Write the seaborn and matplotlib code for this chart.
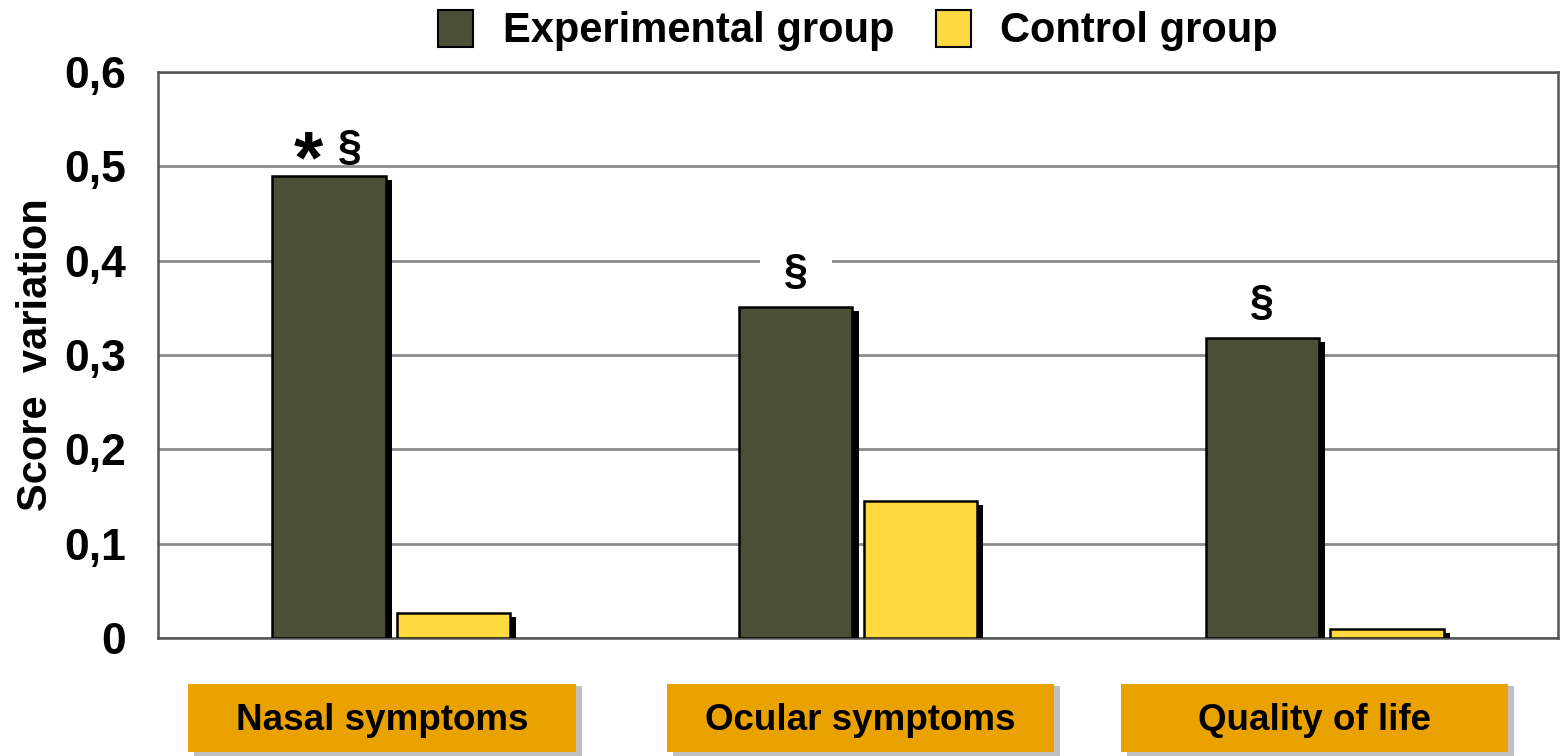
import matplotlib
matplotlib.use("Agg")
import matplotlib.pyplot as plt
import matplotlib.patheffects as pe
from matplotlib.patches import Rectangle, Patch
import matplotlib.transforms as mtransforms
import pandas as pd
import seaborn as sns

# === DATA ===
categories = ["Nasal symptoms", "Ocular symptoms", "Quality of life"]
groups = ["Experimental group", "Control group"]
experimental = [0.490, 0.351, 0.318]
control = [0.027, 0.145, 0.010]
marks = ["* §", "§", "§"]
yticks = [0, 0.1, 0.2, 0.3, 0.4, 0.5, 0.6]
ytick_labels = ["0", "0,1", "0,2", "0,3", "0,4", "0,5", "0,6"]

colors = {"Experimental group": "#4B4F36", "Control group": "#FFD940"}

df = pd.DataFrame({
    "category": categories * 2,
    "group": [groups[0]] * 3 + [groups[1]] * 3,
    "value": experimental + control,
})

# === PLOT ===
sns.set_style("white")
plt.rcParams["font.family"] = ["Liberation Sans", "DejaVu Sans"]
plt.rcParams["font.weight"] = "bold"
plt.rcParams["text.color"] = "black"
plt.rcParams["axes.labelcolor"] = "black"
plt.rcParams["ytick.color"] = "black"

fig = plt.figure(figsize=(15.63, 7.56), dpi=100)
ax = fig.add_axes([0.101, 0.156, 0.8958, 0.7488])

sns.barplot(data=df, x="category", y="value", hue="group", order=categories,
            hue_order=groups, palette=colors, saturation=1, width=0.534, gap=0.09,
            edgecolor="black", linewidth=1.8, legend=False, ax=ax, zorder=3)

# black drop shadow on every bar
shadow = [pe.SimplePatchShadow(offset=(4.5, -3), shadow_rgbFace="black", alpha=1),
          pe.Normal()]
for p in ax.patches:
    p.set_path_effects(shadow)

ax.set_xlim(-0.5, 2.5)
ax.set_ylim(0, 0.6)
ax.set_yticks(yticks)
ax.set_yticklabels(ytick_labels, fontsize=32, fontweight="bold")
ax.tick_params(axis="y", length=0, pad=23)
ax.set_xticks([])
ax.set_xlabel("")
ax.set_ylabel("Score  variation", fontsize=30, fontweight="bold", labelpad=6)
ax.yaxis.grid(True, color="#8C8C8C", linewidth=2, zorder=0)
ax.set_axisbelow(True)
for s in ax.spines.values():
    s.set_color("#555555")
    s.set_linewidth(1.8)

# significance marks above the experimental bars
exp_bars = ax.containers[0]
for bar, m in zip(exp_bars, marks):
    cx = bar.get_x() + bar.get_width() / 2
    top = bar.get_height()
    tokens = m.split()
    n = len(tokens)
    for k, tok in enumerate(tokens):
        dx = (k - (n - 1) / 2) * 29.5
        if tok == "*":
            ax.annotate(tok, (cx, top), xytext=(dx, 9), textcoords="offset points",
                        ha="center", va="center", fontsize=54, fontweight="bold", zorder=4)
        elif n > 1:
            ax.annotate(tok, (cx, top), xytext=(dx, 20), textcoords="offset points",
                        ha="center", va="center", fontsize=31, fontweight="bold", zorder=4)
        else:
            ax.annotate(f"  {tok}  ", (cx, top), xytext=(dx, 25), textcoords="offset points",
                        ha="center", va="center", fontsize=31, fontweight="bold", zorder=4,
                        bbox=dict(facecolor="white", edgecolor="none",
                                  boxstyle="square,pad=0.0"))

# orange category boxes under the axis
trans = mtransforms.blended_transform_factory(ax.transData, ax.transAxes)
box_w = 0.83
box_shift = [-0.02, 0.006, -0.022]
for i, cat in enumerate(categories):
    x0 = i + box_shift[i] - box_w / 2
    sh = Rectangle((x0 + 0.013, -0.212), box_w, 0.127, transform=trans,
                   facecolor="#C0C0C0", edgecolor="none", clip_on=False, zorder=1)
    bx = Rectangle((x0, -0.201), box_w, 0.12, transform=trans,
                   facecolor="#E9A200", edgecolor="none", clip_on=False, zorder=2)
    ax.add_patch(sh)
    ax.add_patch(bx)
    ax.text(i + box_shift[i], -0.145, cat, transform=trans, ha="center", va="center",
            fontsize=26.5, fontweight="bold", zorder=3)

handles = [Patch(facecolor=colors[g], edgecolor="black", linewidth=1.5) for g in groups]
ax.legend(handles, groups, loc="lower center", bbox_to_anchor=(0.5, 0.97), ncol=2,
          frameon=False, handlelength=0.85, handleheight=1.0,
          columnspacing=1.0, handletextpad=0.7, prop={"weight": "bold", "size": 30})

fig.savefig("out.png", dpi=100)
